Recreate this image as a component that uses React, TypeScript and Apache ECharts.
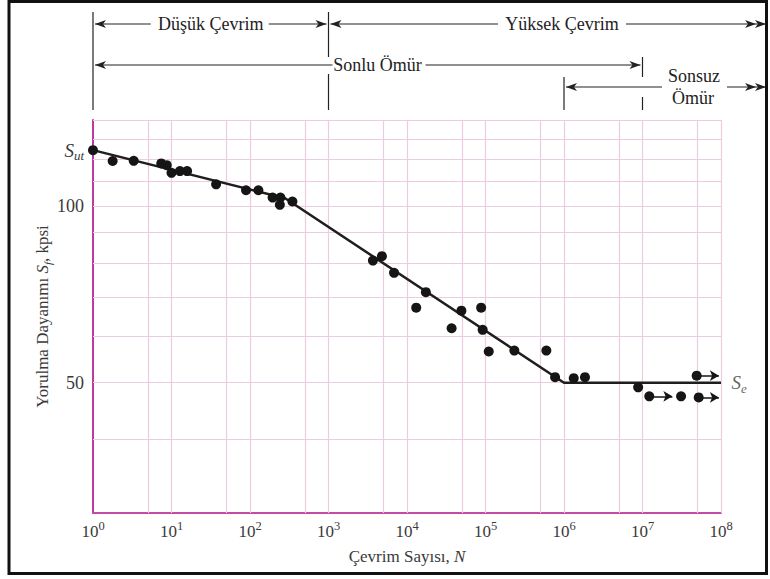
import React, { useEffect, useRef } from "react";
import * as echarts from "echarts";

// ---- data ----
const N_CYCLES = [
  1, 1.78, 3.3, 7.4, 8.7, 10, 12.8, 15.8, 37, 89, 128, 194, 244, 240, 347,
  3680, 4790, 6840, 13100, 17400, 37000, 49300, 88000, 92000, 110000, 233000,
  596000, 770000, 1330000, 1850000, 8800000, 12200000, 31000000, 52000000, 49000000,
];
const S_KPSI = [
  124.4, 119.2, 119.3, 118.1, 117.3, 113.8, 114.6, 114.6, 108.8, 106.3, 106.3,
  103.3, 103.3, 100.4, 101.7, 80.7, 82.1, 76.9, 67.1, 71.3, 61.9, 66.3, 67.1,
  61.5, 56.5, 56.7, 56.7, 51.1, 50.9, 51.1, 49.1, 47.4, 47.4, 47.2, 51.4,
];
const CURVE_N = [1, 280, 1000000, 100000000];
const CURVE_S = [124.4, 103, 50, 50];
const RUNOUT_START_N = [12200000, 52000000, 49000000];
const RUNOUT_END_N = [24000000, 94000000, 94000000];
const RUNOUT_S = [47.4, 47.2, 51.4];
const X_GRID = [5, 10, 50, 100, 500, 1e3, 5e3, 1e4, 5e4, 1e5, 5e5, 1e6, 5e6, 1e7, 5e7, 1e8];
const Y_GRID = [40, 50, 60, 70, 80, 90, 100, 110, 120, 130, 140];
const Y_LABELS = [50, 100];

const SERIF = "Liberation Serif, Times New Roman, serif";
const TXT = "#3a3a3a";
const PINK = "#edcbe0";

export default function App() {
  const ref = useRef<HTMLDivElement>(null);
  useEffect(() => {
    document.body.style.margin = "0";
    const chart = echarts.init(ref.current!, null, { renderer: "svg" });

    const gridLines: any[] = [];
    X_GRID.forEach((v) => gridLines.push({ xAxis: v }));
    Y_GRID.forEach((v) => {
      const lab = Y_LABELS.includes(v);
      gridLines.push({
        yAxis: v,
        label: lab
          ? { show: true, position: "start", distance: 9, formatter: String(v), color: TXT, fontSize: 18, fontFamily: SERIF }
          : { show: false },
      });
    });

    const points = N_CYCLES.map((n, i) => {
      if (i === 0) {
        return {
          value: [n, S_KPSI[i]],
          label: {
            show: true,
            position: "left",
            distance: 4,
            formatter: "{i|S}{sub|ut}",
            rich: {
              i: { fontFamily: SERIF, fontStyle: "italic", fontSize: 19, lineHeight: 24, color: TXT },
              sub: { fontFamily: SERIF, fontStyle: "italic", fontSize: 13, lineHeight: 12, verticalAlign: "bottom", color: TXT },
            },
          },
        };
      }
      return [n, S_KPSI[i]];
    });

    const runouts = RUNOUT_S.map((s, i) => [
      { coord: [RUNOUT_START_N[i], s] },
      { coord: [RUNOUT_END_N[i], s] },
    ]);

    chart.setOption({
      animation: false,
      textStyle: { fontFamily: SERIF },
      grid: { left: 93, right: 49, top: 120, bottom: 66, outerBoundsMode: "none" },
      xAxis: {
        type: "log",
        logBase: 10,
        min: 1,
        max: 1e8,
        splitNumber: 8,
        axisLine: { show: true, onZero: false, lineStyle: { color: "#c54aa6", width: 2 } },
        axisTick: { show: false },
        splitLine: { show: false },
        axisLabel: {
          margin: 6,
          fontFamily: SERIF,
          formatter: (v: number) => "{b|10}{sup|" + Math.round(Math.log10(v)) + "}",
          rich: {
            b: { fontFamily: SERIF, fontSize: 17, lineHeight: 24, color: TXT },
            sup: { fontFamily: SERIF, fontSize: 12.5, lineHeight: 12, verticalAlign: "top", color: TXT },
          },
        },
        name: "{t|Çevrim Sayısı, }{i|N}",
        nameLocation: "middle",
        nameGap: 35,
        nameTextStyle: {
          fontFamily: SERIF,
          rich: {
            t: { fontFamily: SERIF, fontSize: 17, color: TXT },
            i: { fontFamily: SERIF, fontSize: 17, fontStyle: "italic", color: TXT },
          },
        },
      },
      yAxis: {
        type: "log",
        logBase: 10,
        min: 30,
        max: 140,
        axisLine: { show: true, onZero: false, lineStyle: { color: "#bf3a9e", width: 2 } },
        axisTick: { show: false },
        axisLabel: { show: false },
        splitLine: { show: false },
        name: "{t|Yorulma Dayanımı }{i|S}{sub|f}{t|, kpsi}",
        nameLocation: "middle",
        nameRotate: 90,
        nameGap: 40,
        nameTextStyle: {
          fontFamily: SERIF,
          rich: {
            t: { fontFamily: SERIF, fontSize: 17, lineHeight: 22, color: TXT },
            i: { fontFamily: SERIF, fontSize: 17, fontStyle: "italic", lineHeight: 22, color: TXT },
            sub: { fontFamily: SERIF, fontSize: 11, fontStyle: "italic", lineHeight: 11, verticalAlign: "bottom", color: TXT },
          },
        },
      },
      series: [
        {
          type: "line",
          data: CURVE_N.map((n, i) => [n, CURVE_S[i]]),
          symbol: "none",
          lineStyle: { color: "#1e1e1e", width: 2.5 },
          z: 3,
          markLine: {
            silent: true,
            z: 1,
            symbol: ["none", "none"],
            animation: false,
            label: { show: false },
            lineStyle: { color: PINK, width: 1.2, type: "solid" },
            emphasis: { disabled: true },
            data: gridLines,
          },
        },
        {
          type: "scatter",
          data: points,
          symbolSize: 10,
          itemStyle: { color: "#151515", opacity: 1 },
          z: 4,
          markLine: {
            silent: true,
            z: 4,
            symbol: ["none", "arrow"],
            symbolSize: [8, 9],
            animation: false,
            label: { show: false },
            lineStyle: { color: "#151515", width: 1.5, type: "solid", opacity: 1 },
            data: runouts,
          },
        },
        {
          type: "scatter",
          data: [
            {
              value: [CURVE_N[3], CURVE_S[3]],
              label: {
                show: true,
                position: "right",
                distance: 10,
                formatter: "{i|S}{sub|e}",
                rich: {
                  i: { fontFamily: SERIF, fontStyle: "italic", fontSize: 19, lineHeight: 24, color: TXT },
                  sub: { fontFamily: SERIF, fontStyle: "italic", fontSize: 13, lineHeight: 12, verticalAlign: "bottom", color: TXT },
                },
              },
            },
          ],
          symbolSize: 1,
          itemStyle: { color: "transparent" },
          z: 4,
        },
      ],
    });

    const px = (v: number) => chart.convertToPixel({ xAxisIndex: 0 } as any, v) as number;
    const x0 = px(1);
    const x3 = px(1e3);
    const x6 = px(1e6);
    const x7 = px(1e7);
    const xEnd = 766;
    const INK = "#222";
    const els: any[] = [];
    const line = (x1: number, y1: number, x2: number, y2: number) =>
      els.push({ type: "line", shape: { x1, y1, x2, y2 }, style: { stroke: INK, lineWidth: 1.2 }, silent: true });
    const head = (tip: number, y: number, dir: number) =>
      els.push({
        type: "polygon",
        shape: { points: [[tip, y], [tip - dir * 11, y - 4], [tip - dir * 8, y], [tip - dir * 11, y + 4]] },
        style: { fill: INK },
        silent: true,
      });
    const text = (t: string, x: number, y: number) =>
      els.push({
        type: "text",
        x,
        y,
        style: {
          text: t,
          font: "18px " + SERIF,
          fontSize: 18,
          fontFamily: SERIF,
          fill: INK,
          align: "center",
          verticalAlign: "middle",
          textAlign: "center",
          textVerticalAlign: "middle",
        },
        silent: true,
      });

    // vertical marker lines
    line(x0, 12, x0, 110);
    line(x3, 12, x3, 57);
    line(x3, 74, x3, 110);
    line(x6, 77, x6, 110);
    line(x7, 57, x7, 77);
    line(x7, 97, x7, 110);

    // row 1
    const r1 = 24;
    const c1 = (x0 + x3) / 2;
    line(x0 + 2, r1, c1 - 60, r1);
    head(x0 + 2, r1, -1);
    text("Düşük Çevrim", c1, r1);
    line(c1 + 58, r1, x3 - 2, r1);
    head(x3 - 2, r1, 1);
    const c2 = 562;
    line(x3 + 2, r1, c2 - 64, r1);
    head(x3 + 2, r1, -1);
    text("Yüksek Çevrim", c2, r1);
    line(c2 + 64, r1, xEnd, r1);
    head(xEnd - 10, r1, 1);
    head(xEnd, r1, 1);

    // row 2
    const r2 = 65;
    line(x0 + 2, r2, x3 + 4, r2);
    head(x0 + 2, r2, -1);
    text("Sonlu Ömür", x3 + 49, r2);
    line(x3 + 97, r2, x7 - 2, r2);
    head(x7 - 2, r2, 1);

    // row 3
    const r3 = 87;
    line(x6 + 2, r3, 662, r3);
    head(x6 + 2, r3, -1);
    text("Sonsuz", 694, 76);
    text("Ömür", 693, 98);
    line(727, r3, xEnd, r3);
    head(xEnd - 10, r3, 1);
    head(xEnd, r3, 1);

    // frame
    els.push({
      type: "rect",
      shape: { x: 9, y: 1.5, width: 757.5, height: 572 },
      style: { fill: "none", stroke: "#111", lineWidth: 3 },
      silent: true,
    });

    chart.setOption({ graphic: { elements: els } });
    return () => chart.dispose();
  }, []);
  return <div ref={ref} style={{ width: 770, height: 579 }} />;
}
